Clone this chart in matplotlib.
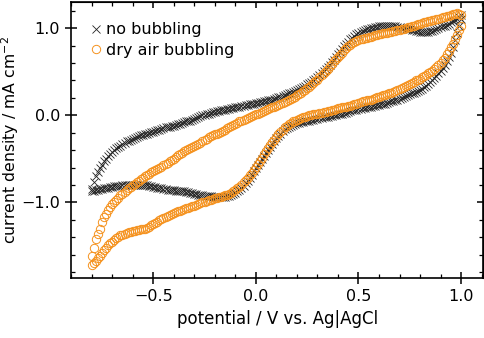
import numpy as np
import matplotlib
matplotlib.use("Agg")
import matplotlib.pyplot as plt
from matplotlib.ticker import MultipleLocator, FuncFormatter

# applied potential / V vs. Ag|AgCl (sweep grid, -0.80 ... 1.00 in 10 mV steps)
potential = np.round(np.arange(-0.80, 1.0001, 0.01), 2)

# no bubbling: forward (upper) and reverse (lower) branch, mA cm-2, ascending potential
nobub_fwd = [-0.85, -0.77, -0.70, -0.65, -0.61, -0.57, -0.53, -0.50, -0.47, -0.44,
             -0.42, -0.40, -0.38, -0.36, -0.35, -0.33, -0.32, -0.30, -0.29, -0.28,
             -0.27, -0.26, -0.25, -0.24, -0.23, -0.225, -0.22, -0.21, -0.20, -0.195,
             -0.19, -0.18, -0.17, -0.165, -0.16, -0.15, -0.14, -0.135, -0.13, -0.125,
             -0.12, -0.11, -0.10, -0.095, -0.09, -0.08, -0.07, -0.065, -0.06, -0.05,
             -0.04, -0.03, -0.02, -0.01, 0.00, 0.005, 0.01, 0.02, 0.03, 0.035,
             0.04, 0.045, 0.05, 0.055, 0.06, 0.065, 0.07, 0.075, 0.08, 0.085,
             0.09, 0.095, 0.10, 0.105, 0.11, 0.115, 0.12, 0.125, 0.13, 0.135,
             0.14, 0.145, 0.15, 0.155, 0.16, 0.165, 0.17, 0.175, 0.18, 0.19,
             0.20, 0.205, 0.21, 0.22, 0.23, 0.24, 0.25, 0.26, 0.27, 0.28,
             0.29, 0.30, 0.31, 0.325, 0.34, 0.355, 0.37, 0.385, 0.40, 0.42,
             0.44, 0.46, 0.48, 0.505, 0.53, 0.555, 0.58, 0.61, 0.64, 0.67,
             0.70, 0.73, 0.76, 0.79, 0.82, 0.845, 0.87, 0.89, 0.91, 0.93,
             0.95, 0.96, 0.97, 0.98, 0.99, 0.995, 1.00, 1.005, 1.01, 1.015,
             1.02, 1.02, 1.02, 1.02, 1.02, 1.02, 1.02, 1.02, 1.02, 1.015,
             1.01, 1.005, 1.00, 0.995, 0.99, 0.985, 0.98, 0.975, 0.97, 0.965,
             0.96, 0.96, 0.96, 0.96, 0.96, 0.965, 0.97, 0.98, 0.99, 1.00,
             1.01, 1.02, 1.03, 1.04, 1.05, 1.065, 1.08, 1.095, 1.11, 1.13,
             1.15]
nobub_rev = [-0.87, -0.865, -0.86, -0.855, -0.85, -0.845, -0.84, -0.835, -0.83, -0.825,
             -0.82, -0.815, -0.81, -0.81, -0.81, -0.805, -0.80, -0.80, -0.80, -0.80,
             -0.80, -0.80, -0.80, -0.80, -0.80, -0.80, -0.80, -0.805, -0.81, -0.815,
             -0.82, -0.825, -0.83, -0.835, -0.84, -0.845, -0.85, -0.855, -0.86, -0.86,
             -0.86, -0.865, -0.87, -0.87, -0.87, -0.875, -0.88, -0.885, -0.89, -0.895,
             -0.90, -0.905, -0.91, -0.915, -0.92, -0.925, -0.93, -0.93, -0.93, -0.935,
             -0.94, -0.94, -0.94, -0.94, -0.94, -0.935, -0.93, -0.925, -0.92, -0.905,
             -0.89, -0.875, -0.86, -0.835, -0.81, -0.78, -0.75, -0.715, -0.68, -0.645,
             -0.61, -0.575, -0.54, -0.505, -0.47, -0.435, -0.40, -0.365, -0.33, -0.295,
             -0.26, -0.235, -0.21, -0.185, -0.16, -0.145, -0.13, -0.12, -0.11, -0.10,
             -0.09, -0.085, -0.08, -0.075, -0.07, -0.065, -0.06, -0.055, -0.05, -0.045,
             -0.04, -0.035, -0.03, -0.025, -0.02, -0.015, -0.01, -0.005, 0.00, 0.005,
             0.01, 0.015, 0.02, 0.025, 0.03, 0.04, 0.05, 0.055, 0.06, 0.065,
             0.07, 0.075, 0.08, 0.085, 0.09, 0.095, 0.10, 0.105, 0.11, 0.115,
             0.12, 0.125, 0.13, 0.135, 0.14, 0.15, 0.16, 0.165, 0.17, 0.18,
             0.19, 0.20, 0.21, 0.22, 0.23, 0.24, 0.25, 0.26, 0.27, 0.28,
             0.29, 0.305, 0.32, 0.34, 0.36, 0.38, 0.40, 0.425, 0.45, 0.48,
             0.51, 0.545, 0.58, 0.625, 0.67, 0.72, 0.78, 0.86, 0.95, 1.02,
             1.10]

# dry air bubbling
dry_fwd = [-1.62, -1.52, -1.42, -1.36, -1.30, -1.23, -1.17, -1.13, -1.09, -1.055,
           -1.02, -0.995, -0.97, -0.945, -0.92, -0.90, -0.88, -0.86, -0.84, -0.82,
           -0.80, -0.785, -0.77, -0.75, -0.73, -0.715, -0.70, -0.685, -0.67, -0.655,
           -0.64, -0.63, -0.62, -0.605, -0.59, -0.575, -0.56, -0.545, -0.53, -0.515,
           -0.50, -0.48, -0.46, -0.445, -0.43, -0.415, -0.40, -0.39, -0.38, -0.365,
           -0.35, -0.34, -0.33, -0.315, -0.30, -0.285, -0.27, -0.255, -0.24, -0.23,
           -0.22, -0.21, -0.20, -0.19, -0.18, -0.165, -0.15, -0.135, -0.12, -0.11,
           -0.10, -0.085, -0.07, -0.06, -0.05, -0.04, -0.03, -0.02, -0.01, 0.00,
           0.01, 0.02, 0.03, 0.04, 0.05, 0.06, 0.07, 0.08, 0.09, 0.10,
           0.11, 0.12, 0.13, 0.14, 0.15, 0.165, 0.18, 0.19, 0.20, 0.215,
           0.23, 0.245, 0.26, 0.275, 0.29, 0.31, 0.33, 0.35, 0.37, 0.39,
           0.41, 0.435, 0.46, 0.485, 0.51, 0.535, 0.56, 0.59, 0.62, 0.645,
           0.67, 0.695, 0.72, 0.745, 0.77, 0.79, 0.81, 0.825, 0.84, 0.85,
           0.86, 0.87, 0.88, 0.885, 0.89, 0.895, 0.90, 0.91, 0.92, 0.925,
           0.93, 0.935, 0.94, 0.945, 0.95, 0.955, 0.96, 0.965, 0.97, 0.975,
           0.98, 0.985, 0.99, 1.00, 1.01, 1.015, 1.02, 1.03, 1.04, 1.045,
           1.05, 1.06, 1.07, 1.075, 1.08, 1.085, 1.09, 1.095, 1.10, 1.11,
           1.12, 1.125, 1.13, 1.135, 1.14, 1.15, 1.16, 1.165, 1.17, 1.165,
           1.15]
dry_rev = [-1.72, -1.695, -1.67, -1.64, -1.61, -1.58, -1.55, -1.52, -1.49, -1.47,
           -1.45, -1.43, -1.41, -1.395, -1.38, -1.37, -1.36, -1.35, -1.34, -1.335,
           -1.33, -1.325, -1.32, -1.315, -1.31, -1.305, -1.30, -1.29, -1.28, -1.265,
           -1.25, -1.235, -1.22, -1.205, -1.19, -1.18, -1.17, -1.155, -1.14, -1.13,
           -1.12, -1.11, -1.10, -1.095, -1.09, -1.08, -1.07, -1.06, -1.05, -1.045,
           -1.04, -1.03, -1.02, -1.01, -1.00, -0.99, -0.98, -0.975, -0.97, -0.96,
           -0.95, -0.945, -0.94, -0.935, -0.93, -0.92, -0.91, -0.90, -0.89, -0.875,
           -0.86, -0.84, -0.82, -0.795, -0.77, -0.745, -0.72, -0.69, -0.66, -0.625,
           -0.59, -0.555, -0.52, -0.485, -0.45, -0.415, -0.38, -0.345, -0.31, -0.28,
           -0.25, -0.22, -0.19, -0.165, -0.14, -0.12, -0.10, -0.085, -0.07, -0.06,
           -0.05, -0.04, -0.03, -0.025, -0.02, -0.01, 0.00, 0.005, 0.01, 0.015,
           0.02, 0.025, 0.03, 0.035, 0.04, 0.045, 0.05, 0.055, 0.06, 0.07,
           0.08, 0.085, 0.09, 0.095, 0.10, 0.105, 0.11, 0.12, 0.13, 0.135,
           0.14, 0.15, 0.16, 0.165, 0.17, 0.175, 0.18, 0.19, 0.20, 0.205,
           0.21, 0.22, 0.23, 0.235, 0.24, 0.25, 0.26, 0.27, 0.28, 0.29,
           0.30, 0.315, 0.33, 0.34, 0.35, 0.36, 0.37, 0.385, 0.40, 0.41,
           0.42, 0.435, 0.45, 0.465, 0.48, 0.495, 0.51, 0.53, 0.55, 0.575,
           0.60, 0.63, 0.66, 0.70, 0.74, 0.78, 0.82, 0.87, 0.92, 0.975,
           1.03]

plt.rcParams['font.family'] = ['DejaVu Sans']
plt.rcParams['font.size'] = 12

fig = plt.figure(figsize=(4.84, 3.38), dpi=100)
ax = fig.add_axes([0.147, 0.177, 0.851, 0.817])

# full cycle: forward sweep then back
E = np.concatenate([potential, potential[::-1]])
j_nobub = np.concatenate([nobub_fwd, nobub_rev[::-1]])
j_dry = np.concatenate([dry_fwd, dry_rev[::-1]])

ax.plot(E, j_nobub, ls='none', marker='x', ms=5.8, mew=0.6, color='#222222',
        label='no bubbling')
ax.plot(E, j_dry, ls='none', marker='o', ms=6.0, mew=0.7, mfc='none',
        mec='#F5921E', label='dry air bubbling')

ax.set_xlim(-0.9, 1.107)
ax.set_ylim(-1.87, 1.3)
ax.xaxis.set_major_locator(MultipleLocator(0.5))
ax.xaxis.set_minor_locator(MultipleLocator(0.1))
ax.yaxis.set_major_locator(MultipleLocator(1.0))
ax.yaxis.set_minor_locator(MultipleLocator(0.2))
fmt = FuncFormatter(lambda v, p: ('%.1f' % v).replace('-', '\u2212'))
ax.xaxis.set_major_formatter(fmt)
ax.yaxis.set_major_formatter(fmt)

ax.tick_params(which='major', direction='inout', length=9, width=1.1, labelsize=11.5)
ax.tick_params(which='minor', direction='in', length=3, width=0.9)

for s in ax.spines.values():
    s.set_linewidth(1.2)

# ticks on top and right, pointing inwards, no labels
top = ax.secondary_xaxis('top')
top.xaxis.set_major_locator(MultipleLocator(0.5))
top.xaxis.set_minor_locator(MultipleLocator(0.1))
top.tick_params(which='major', direction='in', length=4.5, width=1.1, labeltop=False)
top.tick_params(which='minor', direction='in', length=3, width=0.9)
right = ax.secondary_yaxis('right')
right.yaxis.set_major_locator(MultipleLocator(1.0))
right.yaxis.set_minor_locator(MultipleLocator(0.2))
right.tick_params(which='major', direction='in', length=4.5, width=1.1, labelright=False)
right.tick_params(which='minor', direction='in', length=3, width=0.9)

ax.set_xlabel('potential / V vs. Ag|AgCl', labelpad=4)
ax.set_ylabel('current density / mA cm$^{-2}$', fontsize=11.3)
ax.yaxis.set_label_coords(-0.122, 0.5)

ax.legend(loc='upper left', frameon=False, fontsize=11.5, handlelength=0.6,
          handletextpad=0.3, borderaxespad=0, labelspacing=0.35,
          bbox_to_anchor=(0.034, 0.95))

fig.savefig('out.png', dpi=100)
